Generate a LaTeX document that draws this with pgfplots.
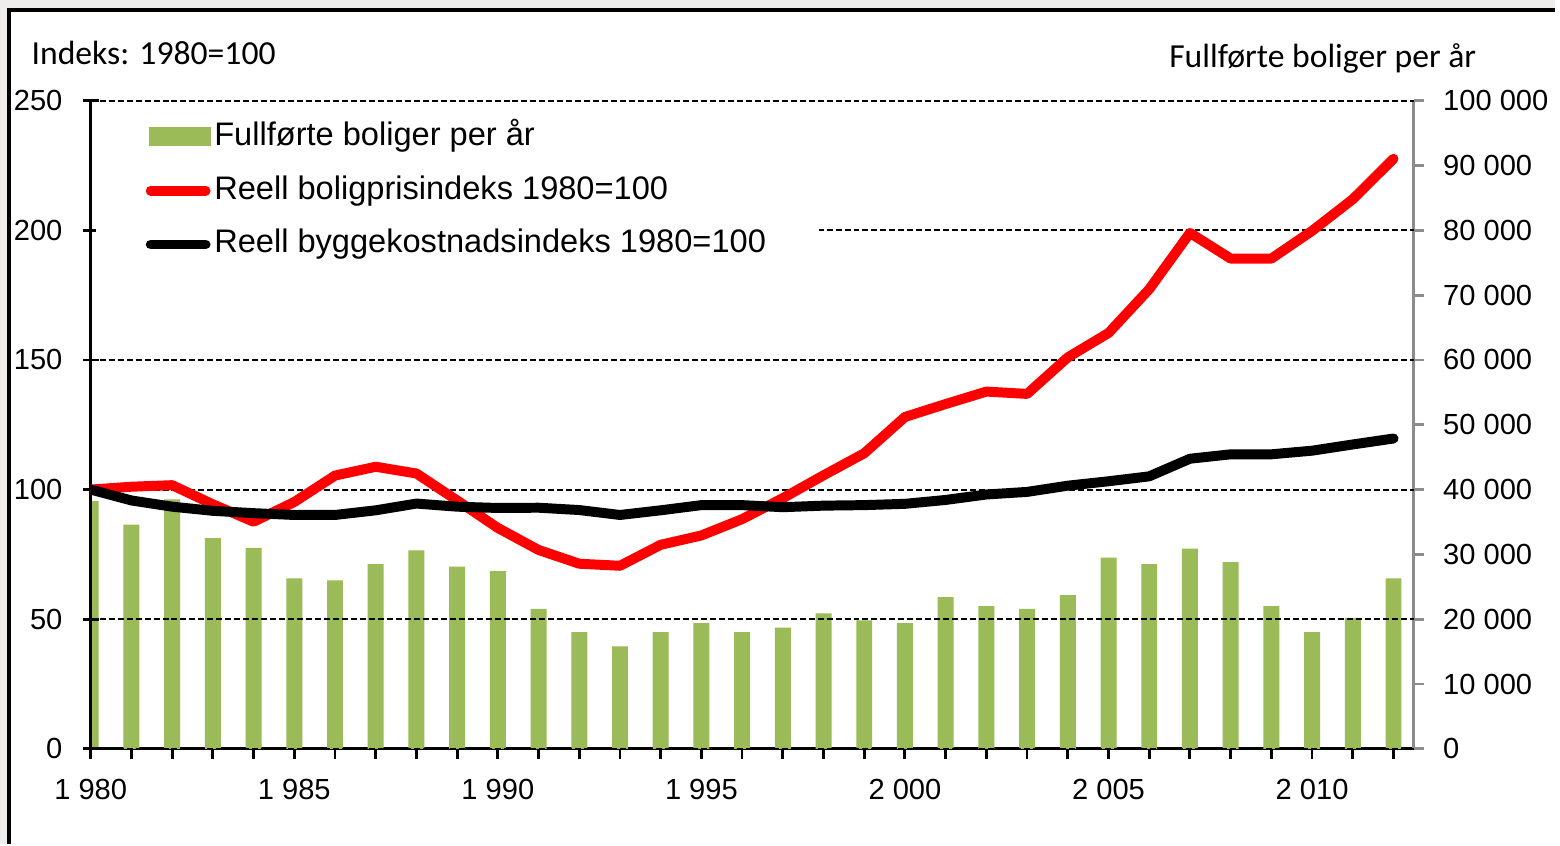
\documentclass[border=0pt]{standalone}
\usepackage{fontspec}
\setmainfont{Liberation Sans}
\newfontfamily\calibri{Carlito}
\usepackage{pgfplots}
\pgfplotsset{compat=1.18}
\definecolor{barg}{HTML}{9BBB59}
\definecolor{bgray}{HTML}{EEEDEB}
\definecolor{axgray}{HTML}{8C8C8C}

\pgfplotstableread{
year bars
1980 38200
1981 34600
1982 38500
1983 32500
1984 31000
1985 26300
1986 26000
1987 28500
1988 30600
1989 28100
1990 27400
1991 21600
1992 18000
1993 15800
1994 18000
1995 19400
1996 18000
1997 18700
1998 20900
1999 19800
2000 19400
2001 23400
2002 22000
2003 21600
2004 23700
2005 29500
2006 28500
2007 30900
2008 28800
2009 22000
2010 18000
2011 20200
2012 26300
}\bartable

\pgfplotstableread{
year price cost
1980 100   100
1981 101.1 95.8
1982 101.7 93.4
1983 94.3  91.8
1984 87.6  90.9
1985 95.2  90.2
1986 105.4 90.2
1987 108.8 92.0
1988 106.2 94.6
1989 95.8  93.4
1990 85.2  92.9
1991 76.7  93.0
1992 71.4  92.1
1993 70.6  90.2
1994 78.7  92.0
1995 82.3  94.0
1996 88.6  94.0
1997 96.7  93.2
1998 105.5 93.8
1999 114.0 94.0
2000 128.0 94.5
2001 133.0 96.0
2002 137.8 98.1
2003 136.9 99.1
2004 151.0 101.5
2005 160.4 103.2
2006 177.3 105.1
2007 199.0 111.9
2008 189.1 113.6
2009 189.1 113.6
2010 199.8 115.0
2011 212.0 117.4
2012 227.6 119.7
}\linetable

\begin{document}
\begin{tikzpicture}
\fill[bgray] (0,0) rectangle (156mm,84.6mm);
\fill[white] (0.95mm,0) rectangle (156mm,83.6mm);
\draw[black,line width=0.4mm] (0.95mm,0) -- (0.95mm,83.6mm) -- (156mm,83.6mm);

\node[anchor=base west, inner sep=0pt, font=\calibri\fontsize{9.6}{11}\selectfont] at (3.1mm,78.1mm) {Indeks: 1980=100};
\node[anchor=base west, inner sep=0pt, font=\calibri\fontsize{9.6}{11}\selectfont] at (117.2mm,77.8mm) {Fullførte boliger per år};

\begin{axis}[
  at={(9.1mm,9.5mm)}, anchor=south west,
  scale only axis, width=132.7mm, height=65mm,
  xmin=1980, xmax=2012.5, ymin=0, ymax=100000,
  axis x line*=bottom, axis y line*=right,
  x axis line style={black, line width=0.8pt, -},
  y axis line style={axgray, line width=0.8pt, -},
  xtick={1980,1985,...,2010},
  xticklabels={1 980,1 985,1 990,1 995,2 000,2 005,2 010},
  minor xtick={1980,...,2012},
  x tick style={black, line width=0.8pt},
  tick align=outside,
  major tick length=1mm, minor tick length=1mm,
  scaled y ticks=false,
  ytick={0,10000,...,100000},
  yticklabels={0,10 000,20 000,30 000,40 000,50 000,60 000,70 000,80 000,90 000,100 000},
  y tick style={axgray, line width=0.8pt},
  ticklabel style={font=\fontsize{8.3}{10}\selectfont},
  /pgf/number format/assume math mode=true,
  yticklabel style={anchor=west, xshift=0.7mm},
  xticklabel style={yshift=-0.8mm},
]
\addplot[ybar, bar width=1.6mm, bar shift=0pt, fill=barg, draw=none] table[x=year, y=bars] {\bartable};
\end{axis}

\begin{axis}[
  at={(9.1mm,9.5mm)}, anchor=south west,
  scale only axis, width=132.7mm, height=65mm,
  xmin=1980, xmax=2012.5, ymin=0, ymax=250,
  axis x line=none, axis y line*=left,
  y axis line style={black, line width=0.8pt, -},
  ytick={0,50,...,250},
  y tick style={black, line width=0.8pt},
  tick align=center, major tick length=1.6mm,
  ymajorgrids,
  grid style={black, line width=0.55pt, dash pattern=on 0.6mm off 0.3mm},
  ticklabel style={font=\fontsize{8.3}{10}\selectfont},
  /pgf/number format/assume math mode=true,
  yticklabel style={xshift=-0.8mm},
  legend style={at={(rel axis cs:0,1)}, xshift=0.45mm, yshift=-1.0mm, anchor=north west,
    fill=white, draw=none, inner xsep=5mm, inner ysep=1mm,
    font=\fontsize{9.3}{11}\selectfont, row sep=2.3mm,
    nodes={text height=2.4mm, text depth=0.7mm, inner ysep=0pt, inner xsep=0.3mm}},
  legend cell align=left,
  legend image code/.code={\draw[#1] (0.5mm,0mm) -- (6mm,0mm);},
]
\addlegendimage{legend image code/.code={\fill[barg] (0.4mm,-0.9mm) rectangle (6.5mm,0.9mm);}}
\addlegendentry{Fullførte boliger per år}
\addplot[red, line width=1mm, line cap=round, line join=round] table[x=year, y=price] {\linetable};
\addlegendentry{Reell boligprisindeks 1980=100}
\addplot[black, line width=1mm, line cap=round, line join=round] table[x=year, y=cost] {\linetable};
\addlegendentry{Reell byggekostnadsindeks 1980=100}
\end{axis}
\end{tikzpicture}
\end{document}
